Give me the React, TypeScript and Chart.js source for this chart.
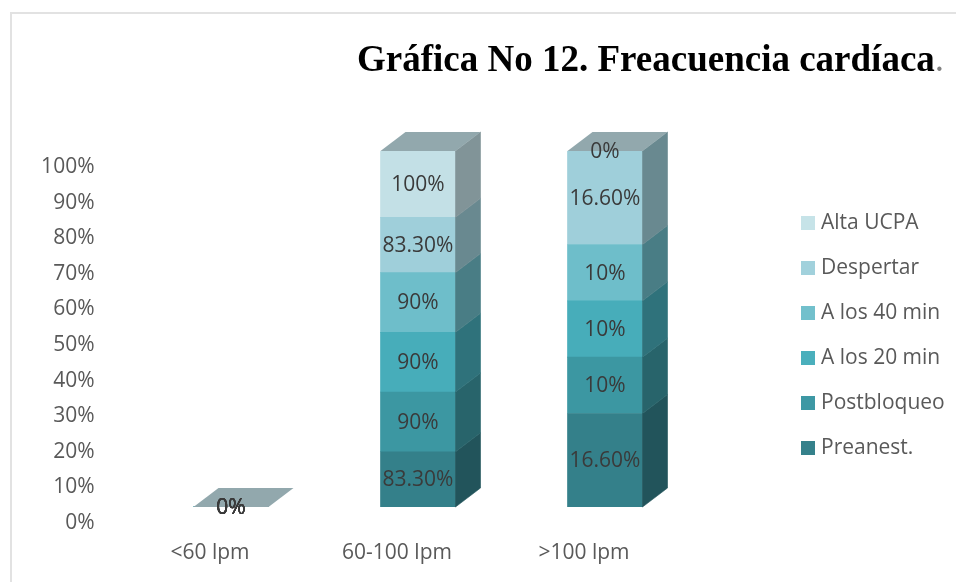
import React, { useEffect, useRef } from 'react';
import { Chart, registerables } from 'chart.js';

Chart.register(...registerables);

// Heart-rate ranges and the share recorded at each stage (percent labels as written)
const categories = ['<60 lpm', '60-100 lpm', '>100 lpm'];
const seriesNames = ['Preanest.', 'Postbloqueo', 'A los 20 min', 'A los 40 min', 'Despertar', 'Alta UCPA'];
const preanest = [0, 83.3, 16.6];
const postbloqueo = [0, 90, 10];
const aLos20 = [0, 90, 10];
const aLos40 = [0, 90, 10];
const despertar = [0, 83.3, 16.6];
const altaUcpa = [0, 100, 0];
const seriesValues = [preanest, postbloqueo, aLos20, aLos40, despertar, altaUcpa];
const yTickValues = [0, 10, 20, 30, 40, 50, 60, 70, 80, 90, 100];

const frontColors = ['#34808A', '#3C97A2', '#47ADBA', '#6EBECA', '#9FCFDA', '#C3E0E6'];
const legendColors = ['#35818B', '#3D98A4', '#4AAFBC', '#72C0CC', '#A1D1DC', '#C6E3E8'];

const FONT = '"Open Sans", "DejaVu Sans", sans-serif';
const FONT_SIZE = 21;
const TEXT_DARK = '#3A3A3A';
const TEXT_GREY = '#595959';
const DEPTH_X = 25;
const DEPTH_Y = -19;

function shade(hex: string, f: number): string {
  const n = parseInt(hex.slice(1), 16);
  const r = Math.round(((n >> 16) & 255) * f);
  const g = Math.round(((n >> 8) & 255) * f);
  const b = Math.round((n & 255) * f);
  return `rgb(${r},${g},${b})`;
}

const sideColors = frontColors.map((c) => shade(c, 0.66));
const topColor = shade(frontColors[5], 0.75);

function fmtPct(v: number): string {
  return Number.isInteger(v) ? `${v}%` : `${v.toFixed(2)}%`;
}

// 100% stacking: each category's values become shares of that category's total
const totals = categories.map((_, i) => seriesValues.reduce((s, arr) => s + arr[i], 0));
const shares = seriesValues.map((arr) => arr.map((v, i) => (totals[i] > 0 ? (v / totals[i]) * 100 : 0)));

const cubePlugin = {
  id: 'cube3d',
  afterDatasetsDraw(chart: any) {
    const ctx = chart.ctx;
    const metas = chart.getSortedVisibleDatasetMetas();
    ctx.save();
    for (let i = 0; i < categories.length; i++) {
      let topY = Infinity;
      let left = 0;
      let right = 0;
      metas.forEach((meta: any) => {
        const bar = meta.data[i];
        const p = bar.getProps(['x', 'y', 'base', 'width'], true);
        const l = p.x - p.width / 2;
        const r = p.x + p.width / 2;
        const top = Math.min(p.y, p.base);
        const bottom = Math.max(p.y, p.base);
        if (bottom - top > 0.01) {
          ctx.fillStyle = sideColors[meta.index];
          ctx.strokeStyle = sideColors[meta.index];
          ctx.lineWidth = 0.6;
          ctx.beginPath();
          ctx.moveTo(r, bottom);
          ctx.lineTo(r, top);
          ctx.lineTo(r + DEPTH_X, top + DEPTH_Y);
          ctx.lineTo(r + DEPTH_X, bottom + DEPTH_Y);
          ctx.closePath();
          ctx.fill();
          ctx.stroke();
        }
        topY = Math.min(topY, top);
        left = l;
        right = r;
      });
      ctx.fillStyle = topColor;
      ctx.beginPath();
      ctx.moveTo(left, topY);
      ctx.lineTo(right, topY);
      ctx.lineTo(right + DEPTH_X, topY + DEPTH_Y);
      ctx.lineTo(left + DEPTH_X, topY + DEPTH_Y);
      ctx.closePath();
      ctx.fill();
    }

    // value labels centred on each front face
    ctx.font = `${FONT_SIZE}px ${FONT}`;
    ctx.fillStyle = TEXT_DARK;
    ctx.textAlign = 'center';
    ctx.textBaseline = 'middle';
    metas.forEach((meta: any) => {
      meta.data.forEach((bar: any, i: number) => {
        const p = bar.getProps(['x', 'y', 'base'], true);
        ctx.fillText(fmtPct(seriesValues[meta.index][i]), p.x, (p.y + p.base) / 2 + 1);
      });
    });

    // legend, listed from the top of the stack down
    ctx.textAlign = 'left';
    for (let k = seriesNames.length - 1, row = 0; k >= 0; k--, row++) {
      const cy = 223 + row * 45;
      ctx.fillStyle = legendColors[k];
      ctx.fillRect(801, cy - 7, 14, 14);
      ctx.fillStyle = TEXT_GREY;
      ctx.fillText(seriesNames[k], 821, cy);
    }
    ctx.restore();
  },
};

export default function App() {
  const canvasRef = useRef<HTMLCanvasElement | null>(null);

  useEffect(() => {
    if (!canvasRef.current) return;
    const chart = new Chart(canvasRef.current, {
      type: 'bar',
      data: {
        labels: categories,
        datasets: seriesNames.map((name, k) => ({
          label: name,
          data: shares[k],
          backgroundColor: frontColors[k],
          borderWidth: 0,
          barThickness: 75,
        })),
      },
      options: {
        responsive: false,
        maintainAspectRatio: false,
        animation: false,
        events: [],
        layout: { padding: { left: 0, right: 257.5, top: 151, bottom: 0 } },
        plugins: {
          legend: { display: false },
          tooltip: { enabled: false },
          title: { display: false },
        },
        scales: {
          x: {
            stacked: true,
            offset: true,
            grid: { display: false, drawTicks: false },
            border: { display: false },
            ticks: {
              color: TEXT_GREY,
              font: { family: FONT, size: FONT_SIZE },
              padding: 33,
              labelOffset: -21,
              maxRotation: 0,
              autoSkip: false,
            },
            afterFit: (scale: any) => {
              scale.height = 75;
            },
          },
          y: {
            stacked: true,
            min: 0,
            max: 100,
            grid: { display: false, drawTicks: false },
            border: { display: false },
            afterBuildTicks: (scale: any) => {
              scale.ticks = yTickValues.map((v) => ({ value: v }));
            },
            ticks: {
              color: TEXT_GREY,
              font: { family: FONT, size: FONT_SIZE },
              padding: 43,
              labelOffset: 16,
              autoSkip: false,
              callback: (v: any) => `${v}%`,
            },
            afterFit: (scale: any) => {
              scale.width = 137.5;
            },
          },
        },
      },
      plugins: [cubePlugin],
    });
    return () => chart.destroy();
  }, []);

  return (
    <div
      style={{
        position: 'fixed',
        left: 0,
        top: 0,
        width: 956,
        height: 582,
        overflow: 'hidden',
        background: '#ffffff',
      }}
    >
      <div
        style={{
          position: 'absolute',
          left: 10,
          top: 12,
          width: 1000,
          height: 700,
          borderLeft: '2px solid #E2E2E2',
          borderTop: '2px solid #E2E2E2',
        }}
      />
      <canvas ref={canvasRef} width={956} height={582} style={{ position: 'absolute', left: 0, top: 0 }} />
      <div
        style={{
          position: 'absolute',
          left: 357,
          top: 40,
          font: 'bold 37px "Liberation Serif", "Times New Roman", serif',
          lineHeight: '37px',
          whiteSpace: 'nowrap',
          color: '#000000',
        }}
      >
        Gráfica No 12. Freacuencia cardíaca
        <span style={{ color: '#808080', fontWeight: 'normal' }}>.</span>
      </div>
    </div>
  );
}
